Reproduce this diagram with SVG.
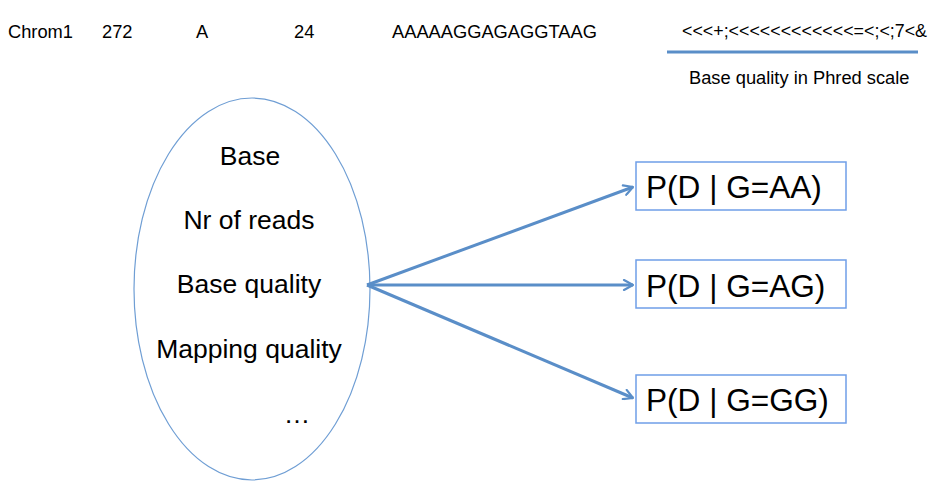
<svg xmlns="http://www.w3.org/2000/svg" width="938" height="491" viewBox="0 0 938 491">
<defs>
<style>
text{font-family:"Liberation Sans",Arial,sans-serif;fill:#000}
.top{font-size:18.3px}
.ell{font-size:26.5px;text-anchor:middle}
.box{font-size:31.6px}
.conn{stroke:#5a8ec8;stroke-width:3;fill:none}
.node{fill:#fff;stroke:#6f9ee8;stroke-width:1.5}
</style>
<marker id="ah" viewBox="0 0 12 12" refX="11" refY="6" markerWidth="12" markerHeight="12" markerUnits="userSpaceOnUse" orient="auto">
<path d="M2,1 L11,6 L2,11" fill="none" stroke="#5a8ec8" stroke-width="2.2" stroke-linecap="round" stroke-linejoin="round"/>
</marker>
</defs>
<rect width="938" height="491" fill="#fff"/>
<g id="header">
<text class="top" x="8" y="38">Chrom1</text>
<text class="top" x="102" y="38">272</text>
<text class="top" x="196" y="38">A</text>
<text class="top" x="294" y="38">24</text>
<text class="top" x="392" y="38">AAAAAGGAGAGGTAAG</text>
<text class="top" x="682" y="37" textLength="245" lengthAdjust="spacingAndGlyphs">&lt;&lt;&lt;+;&lt;&lt;&lt;&lt;&lt;&lt;&lt;&lt;&lt;&lt;&lt;&lt;=&lt;;&lt;;7&lt;&amp;</text>
<line x1="667" y1="52" x2="918" y2="52" stroke="#5a8ec8" stroke-width="3"/>
<text class="top" x="689" y="84">Base quality in Phred scale</text>
</g>
<g id="features">
<ellipse cx="252" cy="289" rx="118" ry="191" fill="#fff" stroke="#6f9ed4" stroke-width="1.2"/>
<text class="ell" x="250" y="165">Base</text>
<text class="ell" x="249" y="229">Nr of reads</text>
<text class="ell" x="249" y="293">Base quality</text>
<text class="ell" x="249" y="358">Mapping quality</text>
<text class="ell" x="297" y="423">…</text>
</g>
<g id="connectors">
<line class="conn" x1="367" y1="285" x2="633" y2="187" marker-end="url(#ah)"/>
<line class="conn" x1="367" y1="285" x2="633" y2="285" marker-end="url(#ah)"/>
<line class="conn" x1="367" y1="285" x2="633" y2="398" marker-end="url(#ah)"/>
</g>
<g id="gAA">
<rect class="node" x="636" y="162" width="210" height="48"/>
<text class="box" x="646" y="198">P(D | G=AA)</text>
</g>
<g id="gAG">
<rect class="node" x="636" y="260" width="210" height="48"/>
<text class="box" x="646" y="297">P(D | G=AG)</text>
</g>
<g id="gGG">
<rect class="node" x="636" y="375" width="210" height="48"/>
<text class="box" x="646" y="411">P(D | G=GG)</text>
</g>
</svg>
